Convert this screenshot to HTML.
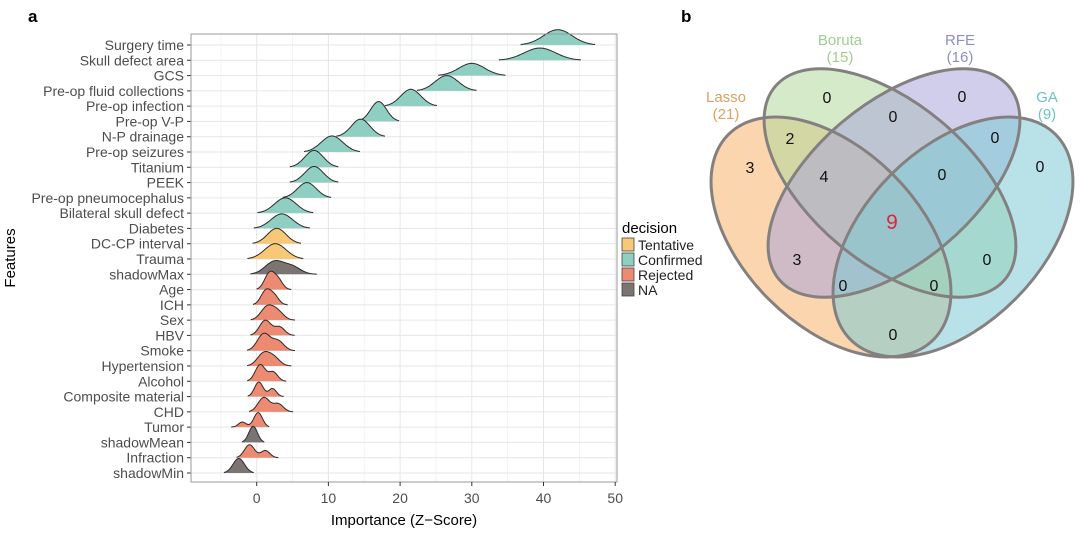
<!DOCTYPE html>
<html><head><meta charset="utf-8">
<style>
html,body{margin:0;padding:0;background:#fff;}
svg{display:block;font-family:"Liberation Sans",Arial,sans-serif;}
</style></head>
<body>
<svg id="fig" width="1080" height="533" viewBox="0 0 1080 533">
  <text x="28" y="22" font-size="17" font-weight="bold" fill="#000">a</text>
  <text x="681" y="22" font-size="17" font-weight="bold" fill="#000">b</text>
  <g id="ridge"></g>
  <g id="venn"></g>
</svg>
<script>
const features = ["Surgery time","Skull defect area","GCS","Pre-op fluid collections","Pre-op infection","Pre-op V-P","N-P drainage","Pre-op seizures","Titanium","PEEK","Pre-op pneumocephalus","Bilateral skull defect","Diabetes","DC-CP interval","Trauma","shadowMax","Age","ICH","Sex","HBV","Smoke","Hypertension","Alcohol","Composite material","CHD","Tumor","shadowMean","Infraction","shadowMin"];
const decisions = ["C","C","C","C","C","C","C","C","C","C","C","C","C","T","T","N","R","R","R","R","R","R","R","R","R","R","N","R","N"];
const centers = [42,39.5,30,26.5,21.5,17,14.5,10.5,8,8,7,4,3.5,2.8,2.6,2.5,1.8,1.3,1.5,1.2,1.0,1.0,0.5,0.3,1.0,0.2,-0.5,-1.0,-2.5];
const spreads = [2.0,2.2,1.8,1.6,1.4,1.1,1.3,1.5,1.3,1.3,1.3,1.5,1.5,1.3,1.5,1.3,0.7,0.7,0.9,0.8,0.9,0.9,0.7,0.6,0.8,0.6,0.6,0.7,0.8];
const peaks = [1.0,0.8,0.8,1.0,1.1,1.3,1.15,1.05,1.1,1.05,1.0,1.0,0.95,1.0,1.0,0.9,1.2,1.05,1.0,1.0,1.15,0.95,1.1,0.95,0.95,0.95,1.05,0.85,0.95];
const mode2 = [null,null,null,null,null,null,null,null,null,null,null,null,null,null,null,5,3,2.5,3,3.2,3,2.5,2.3,2.2,3,-2,null,1.2,null];
const xTicks = [0,10,20,30,40,50];
const legendLabels = ["Tentative","Confirmed","Rejected","NA"];
const legendKeys = ["T","C","R","N"];

const vennSets = ["Lasso","Boruta","RFE","GA"];
const vennSizes = [21,15,16,9];
const vennCounts = [3,0,0,0, 2,4,3,0,0,0,0,0,0,0, 9];
</script>
<script>
const NS="http://www.w3.org/2000/svg";
function el(tag,attrs,parent){const e=document.createElementNS(NS,tag);for(const k in attrs)e.setAttribute(k,attrs[k]);if(parent)parent.appendChild(e);return e;}
const fillC={C:"#8fcfc1",T:"#f6c877",R:"#ec8a72",N:"#7c7473"};
const px0=191,px1=617,py0=34,py1=482;
const xs=v=>256.7+v*7.17;
const rowY=i=>45+i*(428/(features.length-1));
const rowH=15.3;
const g=document.getElementById('ridge');

const panel=el('rect',{x:px0,y:py0,width:px1-px0,height:py1-py0,fill:"#fff",stroke:"none"},g);


for(let v=-5;v<=50;v+=5){
  const gl=el('line',{x1:xs(v),x2:xs(v),y1:py0,y2:py1,stroke:v%10===0?"#e6e6e6":"#f1f1f1","stroke-width":v%10===0?1:0.8},g);
  
  
}
features.forEach((f,i)=>{
  const gl=el('line',{x1:px0,x2:px1,y1:rowY(i),y2:rowY(i),stroke:"#e6e6e6","stroke-width":1},g);
  
  
});
features.forEach((f,i)=>{
  const c=centers[i],s=spreads[i],h=peaks[i]*rowH,m2=mode2[i];
  const lo=Math.min(c,m2==null?c:m2)-2.6*s, hi=Math.max(c,m2==null?c:m2)+2.6*s;
  const w2=(m2!=null&&m2<c)?0.35:0.55;
  const dens=x=>{let d=Math.exp(-0.5*((x-c)/s)**2);if(m2!=null)d+=w2*Math.exp(-0.5*((x-m2)/(s*0.9))**2);return d;};
  let mx=0;const pts=[];
  for(let k=0;k<=80;k++){const x=lo+(hi-lo)*k/80;const d=dens(x);pts.push([x,d]);if(d>mx)mx=d;}
  const y0=rowY(i);
  let top=pts.map(p=>xs(p[0]).toFixed(1)+","+(y0-p[1]/mx*h).toFixed(1));
  const area=el('path',{d:"M"+xs(lo).toFixed(1)+","+y0+" L"+top.join(" L")+" L"+xs(hi).toFixed(1)+","+y0+" Z",fill:fillC[decisions[i]],stroke:"none"},g);
  
  
  const line=el('path',{d:"M"+top.join(" L"),fill:"none",stroke:"#2b2b2b","stroke-width":1},g);
  
  
  const lab=el('text',{x:184,y:y0+5,"text-anchor":"end","font-size":"14",fill:"#4d4d4d"},g);
  lab.textContent=f;
  
  
  const tk=el('line',{x1:187,x2:191,y1:y0,y2:y0,stroke:"#333","stroke-width":1},g);
  
  
});
const border=el('rect',{x:px0,y:py0,width:px1-px0,height:py1-py0,fill:"none",stroke:"#9a9a9a","stroke-width":1},g);


xTicks.forEach(v=>{
  const tk=el('line',{x1:xs(v),x2:xs(v),y1:py1,y2:py1+4,stroke:"#333"},g);
  
  
  const t=el('text',{x:xs(v),y:503,"text-anchor":"middle","font-size":"14",fill:"#4d4d4d"},g);
  t.textContent=v;
  
  
});
const xt=el('text',{x:404,y:525,"text-anchor":"middle","font-size":"15",fill:"#000"},g);
xt.textContent="Importance (Z\u2212Score)";


const yt=el('text',{x:0,y:0,"text-anchor":"middle","font-size":"15",fill:"#000",transform:"translate(15,258) rotate(-90)"},g);
yt.textContent="Features";


const lt=el('text',{x:622,y:233,"font-size":"15",fill:"#000"},g);
lt.textContent="decision";


legendLabels.forEach((l,k)=>{
  const y=238+k*15;
  const r=el('rect',{x:622,y:y,width:12,height:13,fill:fillC[legendKeys[k]],stroke:"#444","stroke-width":0.8},g);
  
  
  const t=el('text',{x:638,y:y+12,"font-size":"14",fill:"#222"},g);
  t.textContent=l;
  
  
});

// Venn
const v=document.getElementById('venn');
const ells=[
 {cx:831,cy:237,a:145,b:88,rot:45,fill:"#f8b36a",lab:[726,102],col:"#e0a060"},
 {cx:890,cy:183,a:150,b:80,rot:40,fill:"#b3d89a",lab:[840,45],col:"#9fcf8e"},
 {cx:894,cy:183,a:150,b:80,rot:-40,fill:"#a9a6da",lab:[960,45],col:"#8e8ec8"},
 {cx:953,cy:237,a:145,b:88,rot:-45,fill:"#7ecad6",lab:[1047,102],col:"#6cc2c8"}
];
ells.forEach((e,k)=>{
  const s=el('ellipse',{cx:e.cx,cy:e.cy,rx:e.a,ry:e.b,transform:`rotate(${e.rot} ${e.cx} ${e.cy})`,fill:e.fill,"fill-opacity":0.55,stroke:"none"},v);
  
  
});
ells.forEach((e,k)=>{
  const s=el('ellipse',{cx:e.cx,cy:e.cy,rx:e.a,ry:e.b,transform:`rotate(${e.rot} ${e.cx} ${e.cy})`,fill:"none",stroke:"#858080","stroke-width":3},v);
  
  
  const t1=el('text',{x:e.lab[0],y:e.lab[1],"text-anchor":"middle","font-size":"15",fill:e.col},v);
  t1.textContent=vennSets[k];
  
  
  const t2=el('text',{x:e.lab[0],y:e.lab[1]+17,"text-anchor":"middle","font-size":"15",fill:e.col},v);
  t2.textContent="("+vennSizes[k]+")";
  
  
});
// region label positions: L,B,R,G, LB,LBR,LR,BR,RG,BRG,BG,LRG,LBG,LG, all
const regionPos=[[750,167],[827,97],[962,96],[1040,166],[790,138],[824,176],[797,259],[893,116],[995,137],[942,174],[987,259],[843,285],[934,285],[893,334],[892,223]];
vennCounts.forEach((n,k)=>{
  const last=k===vennCounts.length-1;
  const t=el('text',{x:regionPos[k][0],y:regionPos[k][1]+6,"text-anchor":"middle","font-size":last?"21":"16",fill:last?"#e5233a":"#111"},v);
  t.textContent=n;
  
  
});
</script>
</body></html>
